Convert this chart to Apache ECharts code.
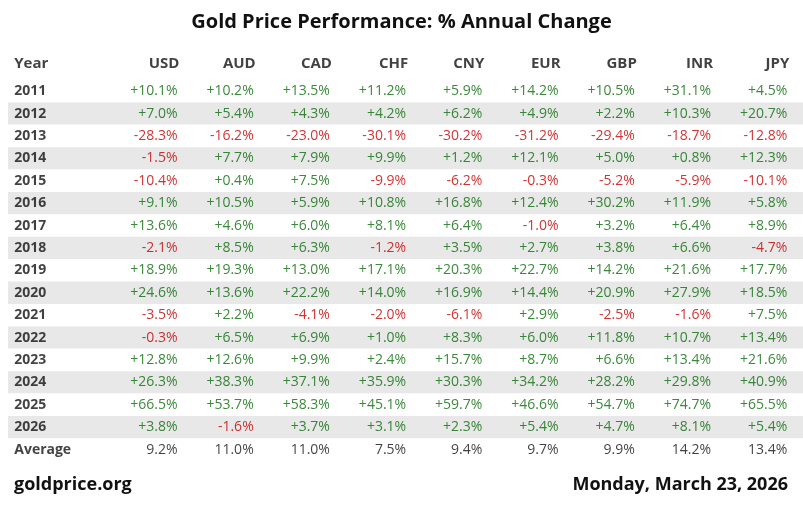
<!DOCTYPE html>
<html>
<head>
<meta charset="utf-8">
<script src="https://cdn.jsdelivr.net/npm/echarts@6/dist/echarts.min.js"></script>
<style>html,body{margin:0;padding:0;background:#fff}#chart{width:803px;height:520px}</style>
</head>
<body>
<div id="chart"></div>
<script>
// table content
const currencies = ['USD', 'AUD', 'CAD', 'CHF', 'CNY', 'EUR', 'GBP', 'INR', 'JPY'];
const rowLabels = ['2011', '2012', '2013', '2014', '2015', '2016', '2017', '2018', '2019',
    '2020', '2021', '2022', '2023', '2024', '2025', '2026', 'Average'];
const rowValues = [
    [10.1, 10.2, 13.5, 11.2, 5.9, 14.2, 10.5, 31.1, 4.5],
    [7.0, 5.4, 4.3, 4.2, 6.2, 4.9, 2.2, 10.3, 20.7],
    [-28.3, -16.2, -23.0, -30.1, -30.2, -31.2, -29.4, -18.7, -12.8],
    [-1.5, 7.7, 7.9, 9.9, 1.2, 12.1, 5.0, 0.8, 12.3],
    [-10.4, 0.4, 7.5, -9.9, -6.2, -0.3, -5.2, -5.9, -10.1],
    [9.1, 10.5, 5.9, 10.8, 16.8, 12.4, 30.2, 11.9, 5.8],
    [13.6, 4.6, 6.0, 8.1, 6.4, -1.0, 3.2, 6.4, 8.9],
    [-2.1, 8.5, 6.3, -1.2, 3.5, 2.7, 3.8, 6.6, -4.7],
    [18.9, 19.3, 13.0, 17.1, 20.3, 22.7, 14.2, 21.6, 17.7],
    [24.6, 13.6, 22.2, 14.0, 16.9, 14.4, 20.9, 27.9, 18.5],
    [-3.5, 2.2, -4.1, -2.0, -6.1, 2.9, -2.5, -1.6, 7.5],
    [-0.3, 6.5, 6.9, 1.0, 8.3, 6.0, 11.8, 10.7, 13.4],
    [12.8, 12.6, 9.9, 2.4, 15.7, 8.7, 6.6, 13.4, 21.6],
    [26.3, 38.3, 37.1, 35.9, 30.3, 34.2, 28.2, 29.8, 40.9],
    [66.5, 53.7, 58.3, 45.1, 59.7, 46.6, 54.7, 74.7, 65.5],
    [3.8, -1.6, 3.7, 3.1, 2.3, 5.4, 4.7, 8.1, 5.4],
    [9.2, 11.0, 11.0, 7.5, 9.4, 9.7, 9.9, 14.2, 13.4]
];

(function() {
    const chart = echarts.init(document.getElementById('chart'), null, { renderer: 'canvas' });
    const FONT = '"Open Sans", "Noto Sans", sans-serif';
    const GREEN = '#0a6b0a', RED = '#c40000';

    const headerData = [{ value: [0, 'h'], label: { formatter: 'Year', position: 'right', offset: [-88, 0] } }]
        .concat(currencies.map((c, i) => ({ value: [i + 1, 'h'], label: { formatter: c, offset: [2, 0] } })));

    const bodyData = [];
    rowLabels.forEach((row, r) => {
        const isAvg = row === 'Average';
        bodyData.push({ value: [0, row], label: { formatter: row, position: 'right', offset: [-88, 0], fontWeight: 'bold', color: '#111' } });
        rowValues[r].forEach((v, i) => {
            let text, color;
            if (isAvg) { text = v.toFixed(1) + '%'; color = '#111'; }
            else { text = (v >= 0 ? '+' : '') + v.toFixed(1) + '%'; color = v >= 0 ? GREEN : RED; }
            bodyData.push({ value: [i + 1, row], label: { formatter: text, color: color } });
        });
    });

    const xAxisBase = { type: 'value', min: -1.23, max: 9.2, show: false };
    const yAxisBase = { type: 'category', inverse: true, axisLine: { show: false }, axisTick: { show: false }, axisLabel: { show: false }, splitLine: { show: false } };

    chart.setOption({
        animation: false,
        title: {
            text: 'Gold Price Performance: % Annual Change', left: 'center', top: 7,
            textStyle: { fontFamily: FONT, fontSize: 20, fontWeight: 'bold', color: '#111' }
        },
        graphic: [
            { type: 'text', left: 14, top: 476, style: { text: 'goldprice.org', font: 'bold 18px ' + FONT, fill: '#111' } },
            { type: 'text', right: 15, top: 476, style: { text: 'Monday, March 23, 2026', font: 'bold 18px ' + FONT, fill: '#111' } }
        ],
        grid: [
            { left: 8, right: 0, top: 53, height: 22 },
            { left: 8, right: 0, top: 80, height: 380.8 }
        ],
        xAxis: [Object.assign({ gridIndex: 0 }, xAxisBase), Object.assign({ gridIndex: 1 }, xAxisBase)],
        yAxis: [
            Object.assign({ gridIndex: 0, data: ['h'] }, yAxisBase),
            Object.assign({ gridIndex: 1, data: rowLabels, splitArea: { show: true, areaStyle: { color: ['#ffffff', '#e8e8e8'] } } }, yAxisBase)
        ],
        series: [
            {
                type: 'scatter', xAxisIndex: 0, yAxisIndex: 0, symbolSize: 1, itemStyle: { color: 'rgba(0,0,0,0)' },
                label: { show: true, position: 'left', distance: 0, fontFamily: FONT, fontSize: 15, fontWeight: 'bold', color: '#111' },
                data: headerData
            },
            {
                type: 'scatter', xAxisIndex: 1, yAxisIndex: 1, symbolSize: 1, itemStyle: { color: 'rgba(0,0,0,0)' },
                label: { show: true, position: 'left', distance: 0, fontFamily: FONT, fontSize: 14 },
                data: bodyData
            }
        ]
    });
})();
</script>
</body>
</html>
